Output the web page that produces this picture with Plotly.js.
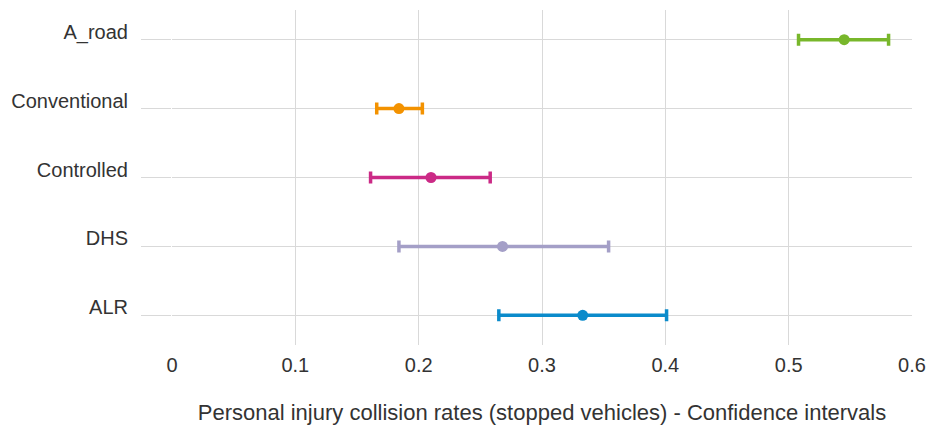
<!DOCTYPE html>
<html>
<head>
<meta charset="utf-8">
<script src="https://cdn.plot.ly/plotly-3.0.1.min.js"></script>
<style>html,body{margin:0;padding:0;background:#fff;}#chart{width:931px;height:429px;}</style>
</head>
<body>
<div id="chart"></div>
<script>
const categories = ["A_road", "Conventional", "Controlled", "DHS", "ALR"];
const rates = [0.545, 0.184, 0.210, 0.268, 0.333];
const lowerCI = [0.508, 0.166, 0.161, 0.184, 0.265];
const upperCI = [0.581, 0.203, 0.258, 0.354, 0.401];
const colors = ["#78b72b", "#f39200", "#cb2a86", "#a49fc7", "#0b8bcb"];
const xTickVals = [0, 0.1, 0.2, 0.3, 0.4, 0.5, 0.6];
const xTickText = ["0", "0.1", "0.2", "0.3", "0.4", "0.5", "0.6"];
const xTitle = "Personal injury collision rates (stopped vehicles) - Confidence intervals";

const FONT = '"Liberation Sans Narrow", "Liberation Sans", Arial, sans-serif';

const traces = categories.map((c, i) => ({
  type: 'scatter',
  mode: 'markers',
  x: [rates[i]],
  y: [c],
  marker: {color: colors[i], size: 11},
  error_x: {
    type: 'data',
    symmetric: false,
    array: [upperCI[i] - rates[i]],
    arrayminus: [rates[i] - lowerCI[i]],
    color: colors[i],
    thickness: 3.5,
    width: 6
  },
  showlegend: false,
  hoverinfo: 'x+y'
}));

const layout = {
  width: 931, height: 429,
  margin: {l: 172, r: 19, t: 10, b: 84},
  paper_bgcolor: '#fff', plot_bgcolor: '#fff',
  font: {family: FONT, size: 20, color: '#333'},
  xaxis: {
    range: [0, 0.6],
    tickvals: xTickVals, ticktext: xTickText,
    showgrid: true, gridcolor: '#d9d9d9', gridwidth: 1,
    zeroline: false, showline: false, ticks: '',
    tickfont: {family: FONT, size: 20, color: '#333'},
    ticklabelstandoff: 6,
    title: {text: xTitle, font: {family: FONT, size: 22, color: '#333'}, standoff: 29}
  },
  yaxis: {
    type: 'category',
    categoryorder: 'array', categoryarray: categories,
    range: [4.43, -0.43],
    showgrid: true, gridcolor: '#d9d9d9', gridwidth: 1,
    zeroline: false, showline: false,
    ticks: 'outside', ticklen: 30, tickcolor: '#d9d9d9', tickwidth: 1,
    tickfont: {family: FONT, size: 20, color: '#333'},
    ticklabelstandoff: 9,
    ticklabelshift: 8
  }
};

Plotly.newPlot('chart', traces, layout, {displayModeBar: false, staticPlot: true});
</script>
</body>
</html>
